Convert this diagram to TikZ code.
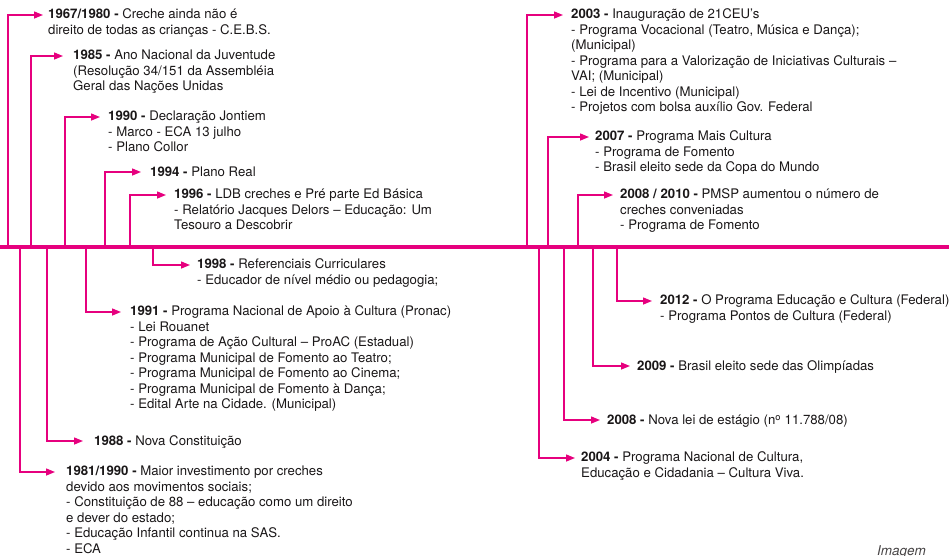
\documentclass[tikz,border=0pt]{standalone}
\usepackage{fontspec}
\setmainfont{TeX Gyre Heros}
\usetikzlibrary{arrows.meta}
\definecolor{linepink}{HTML}{E6007E}
\definecolor{textgray}{HTML}{1A1718}
\tikzset{
        axis/.style={draw=linepink, line width=4.5pt},
        link/.style={draw=linepink, line width=1.4pt, -{Triangle[length=9pt,width=7pt]}},
        event/.style={anchor=north west, inner sep=0pt, align=left, text=textgray,
          font=\fontsize{13.2}{15.5}\selectfont, yshift=6.1pt, execute at begin node=\strut},
        caption/.style={anchor=north west, inner sep=0pt, text=textgray!80, font=\fontsize{13.5}{15}\selectfont\itshape}
          }
\begin{document}
\begin{tikzpicture}[x=1pt, y=-1pt]
        \useasboundingbox (0,0) rectangle (949,555);
        % main line
        \coordinate (L) at (0,247);
        \coordinate (R) at (949,247);
        \draw[axis] (L) -- (R);
        % feet on the main line
        \coordinate (b67) at (8,247);
        \coordinate (b81) at (20,247);
        \coordinate (b85) at (31,247);
        \coordinate (b88) at (47,247);
        \coordinate (b90) at (65,247);
        \coordinate (b91) at (86,247);
        \coordinate (b94) at (105,247);
        \coordinate (b96) at (130,247);
        \coordinate (b98) at (153,247);
        \coordinate (b03) at (527,247);
        \coordinate (b04) at (539,247);
        \coordinate (b07) at (548,247);
        \coordinate (b08) at (564,247);
        \coordinate (b0810) at (578,247);
        \coordinate (b09) at (593,247);
        \coordinate (b12) at (617,247);
        % above the line
        \node[event] (e67) at (48,15) {\textbf{1967/1980 -} Creche ainda não é\\direito de todas as crianças - C.E.B.S.};
        \node[event] (e85) at (73,56) {\textbf{1985 -} Ano Nacional da Juventude\\(Resolução 34/151 da Assembléia\\Geral das Nações Unidas};
        \node[event] (e90) at (108,117) {\textbf{1990 -} Declaração Jontiem\\- Marco - ECA 13 julho\\- Plano Collor};
        \node[event] (e94) at (150,172) {\textbf{1994 -} Plano Real};
        \node[event] (e96) at (174,195) {\textbf{1996 -} LDB creches e Pré parte Ed Básica\\- Relatório Jacques Delors – Educação: Um\\Tesouro a Descobrir};
        \node[event] (e03) at (571,15) {\textbf{2003 -} Inauguração de 21CEU’s\\- Programa Vocacional (Teatro, Música e Dança);\\(Municipal)\\- Programa para a Valorização de Iniciativas Culturais –\\VAI; (Municipal)\\- Lei de Incentivo (Municipal)\\- Projetos com bolsa auxílio Gov. Federal};
        \node[event] (e07) at (595,137) {\textbf{2007 -} Programa Mais Cultura\\- Programa de Fomento\\- Brasil eleito sede da Copa do Mundo};
        \node[event] (e0810) at (620,195) {\textbf{2008 / 2010 -} PMSP aumentou o número de\\creches conveniadas\\- Programa de Fomento};
        % below the line
        \node[event] (e98) at (197,265) {\textbf{1998 -} Referenciais Curriculares\\- Educador de nível médio ou pedagogia;};
        \node[event] (e91) at (130,312) {\textbf{1991 -} Programa Nacional de Apoio à Cultura (Pronac)\\- Lei Rouanet\\- Programa de Ação Cultural – ProAC (Estadual)\\- Programa Municipal de Fomento ao Teatro;\\- Programa Municipal de Fomento ao Cinema;\\- Programa Municipal de Fomento à Dança;\\- Edital Arte na Cidade. (Municipal)};
        \node[event] (e88) at (94,441) {\textbf{1988 -} Nova Constituição};
        \node[event] (e81) at (66,472) {\textbf{1981/1990 -} Maior investimento por creches\\devido aos movimentos sociais;\\- Constituição de 88 – educação como um direito\\e dever do estado;\\- Educação Infantil continua na SAS.\\- ECA};
        \node[event] (e12) at (660,301) {\textbf{2012 -} O Programa Educação e Cultura (Federal)\\- Programa Pontos de Cultura (Federal)};
        \node[event] (e09) at (637,366) {\textbf{2009 -} Brasil eleito sede das Olimpíadas};
        \node[event] (e08) at (607,420) {\textbf{2008 -} Nova lei de estágio (n\textsuperscript{o} 11.788/08)};
        \node[event] (e04) at (581,458) {\textbf{2004 -} Programa Nacional de Cultura,\\Educação e Cidadania – Cultura Viva.};
        \node[caption] (img) at (877,545) {Imagem};
        % connectors
        \draw[link] (b67) |- ([shift={(-5pt,-6.1pt)}]e67.north west);
        \draw[link] (b85) |- ([shift={(-10pt,-6.1pt)}]e85.north west);
        \draw[link] (b90) |- ([shift={(-8pt,-6.1pt)}]e90.north west);
        \draw[link] (b94) |- ([shift={(-9pt,-6.1pt)}]e94.north west);
        \draw[link] (b96) |- ([shift={(-8pt,-6.1pt)}]e96.north west);
        \draw[link] (b03) |- ([shift={(-8pt,-6.1pt)}]e03.north west);
        \draw[link] (b07) |- ([shift={(-6pt,-6.1pt)}]e07.north west);
        \draw[link] (b0810) |- ([shift={(-7pt,-6.1pt)}]e0810.north west);
        \draw[link] (b98) |- ([shift={(-7pt,-6.1pt)}]e98.north west);
        \draw[link] (b91) |- ([shift={(-9pt,-6.1pt)}]e91.north west);
        \draw[link] (b88) |- ([shift={(-11pt,-6.1pt)}]e88.north west);
        \draw[link] (b81) |- ([shift={(-11pt,-6.1pt)}]e81.north west);
        \draw[link] (b12) |- ([shift={(-8pt,-6.1pt)}]e12.north west);
        \draw[link] (b09) |- ([shift={(-7pt,-6.1pt)}]e09.north west);
        \draw[link] (b08) |- ([shift={(-7pt,-6.1pt)}]e08.north west);
        \draw[link] (b04) |- ([shift={(-6pt,-6.1pt)}]e04.north west);
\end{tikzpicture}
\end{document}
